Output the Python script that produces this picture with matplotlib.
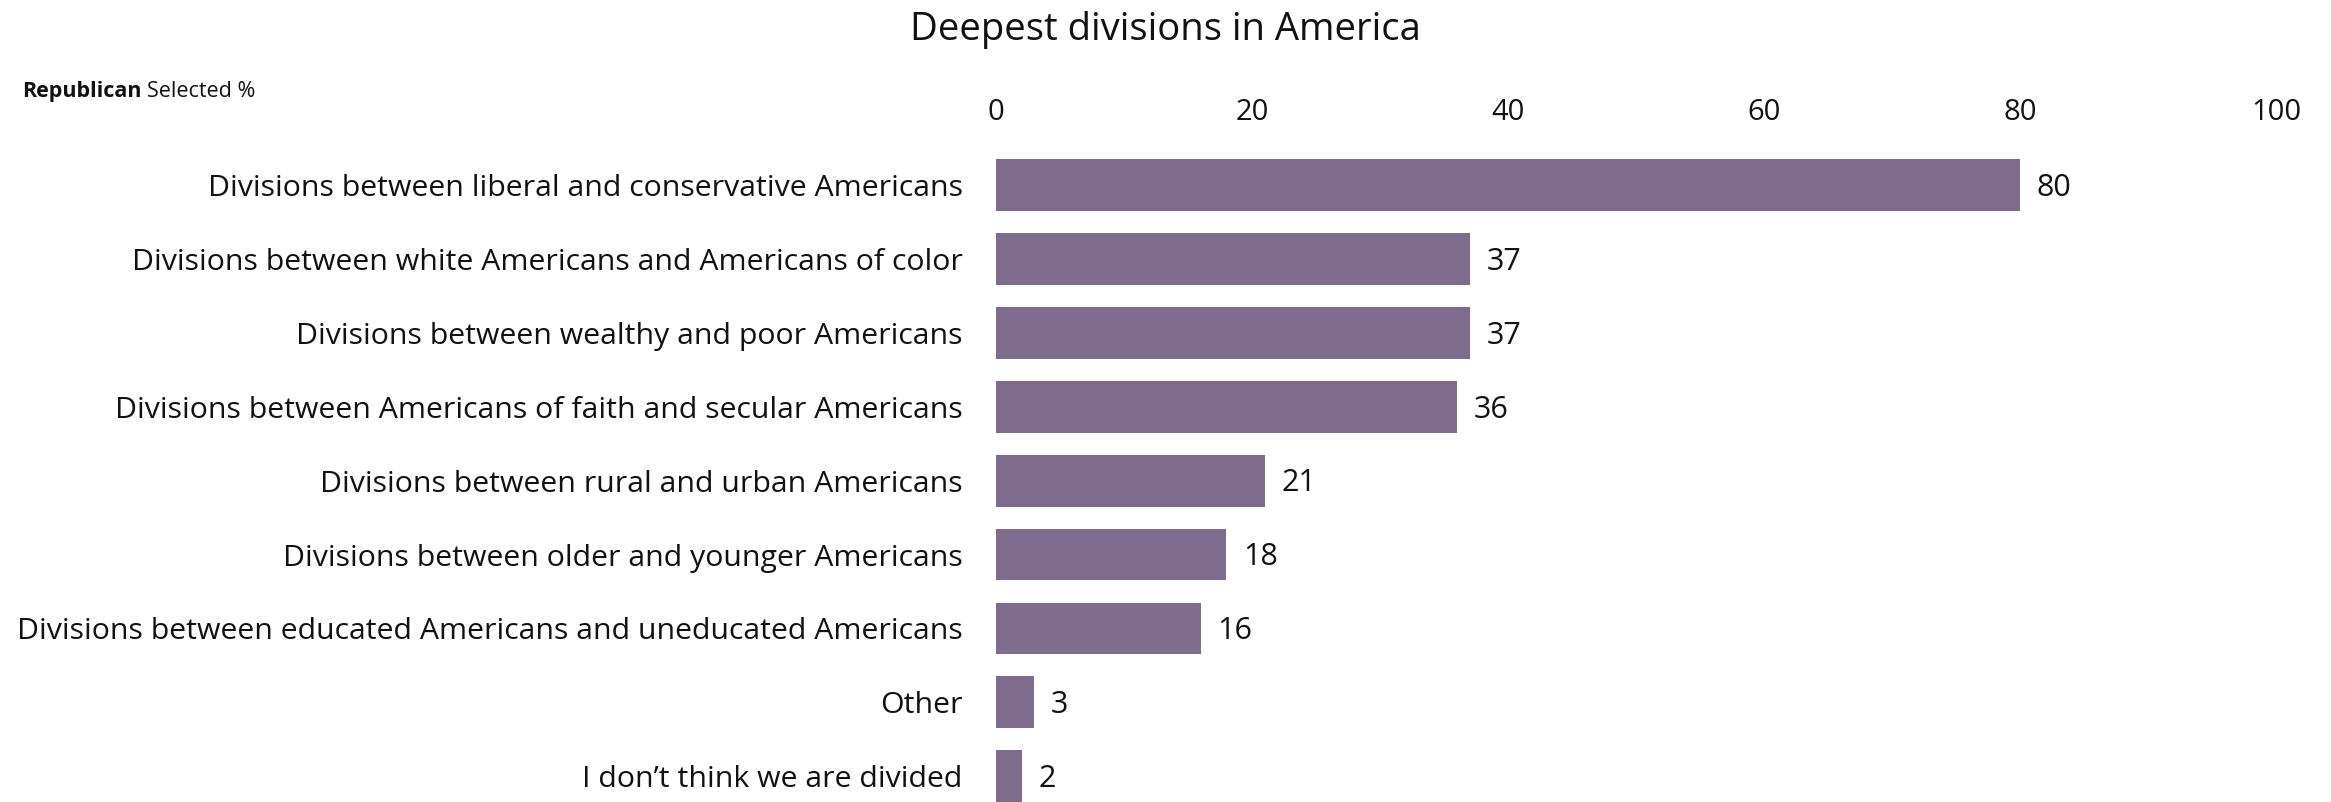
import matplotlib.pyplot as plt

# Data
categories = [
    'Divisions between liberal and conservative Americans',
    'Divisions between white Americans and Americans of color',
    'Divisions between wealthy and poor Americans',
    'Divisions between Americans of faith and secular Americans',
    'Divisions between rural and urban Americans',
    'Divisions between older and younger Americans',
    'Divisions between educated Americans and uneducated Americans',
    'Other',
    "I don\u2019t think we are divided",
]
values = [80, 37, 37, 36, 21, 18, 16, 3, 2]
x_ticks = [0, 20, 40, 60, 80, 100]

bar_color = '#7f6b8e'
plt.rcParams['font.family'] = ['Open Sans', 'DejaVu Sans']

fig = plt.figure(figsize=(23.31, 8.02), dpi=100)
ax = fig.add_axes([0.4273, 0.0, 0.5491, 0.829])

positions = list(range(len(categories)))
ax.barh(positions, values, height=0.7, color=bar_color)

# Value labels at the end of each bar
for pos, val in zip(positions, values):
    ax.annotate(str(val), (val, pos), xytext=(12, -2), textcoords='offset points',
                ha='left', va='center', fontsize=22, color='#111111')

ax.set_xlim(0, 100)
ax.set_ylim(8.35, -0.65)
ax.set_yticks(positions)
ax.set_yticklabels(categories, fontsize=21.8, color='#111111')
ax.set_xticks(x_ticks)
ax.set_xticklabels([str(t) for t in x_ticks], fontsize=21, color='#111111')
ax.xaxis.tick_top()
ax.tick_params(axis='x', length=0, pad=7)
ax.tick_params(axis='y', length=0, pad=24)
for spine in ax.spines.values():
    spine.set_visible(False)

fig.text(0.5, 0.962, 'Deepest divisions in America', ha='center', va='center',
         fontsize=27.5, color='#111111')
rep = fig.text(0.0094, 0.886, 'Republican', ha='left', va='center', fontsize=15.5,
               fontweight='bold', color='#111111')
fig.canvas.draw()
bb = rep.get_window_extent()
fig.text((bb.x1 + 6) / fig.bbox.width, 0.886, 'Selected %', ha='left', va='center',
         fontsize=15.5, color='#111111')

fig.savefig('out.png', dpi=100)
